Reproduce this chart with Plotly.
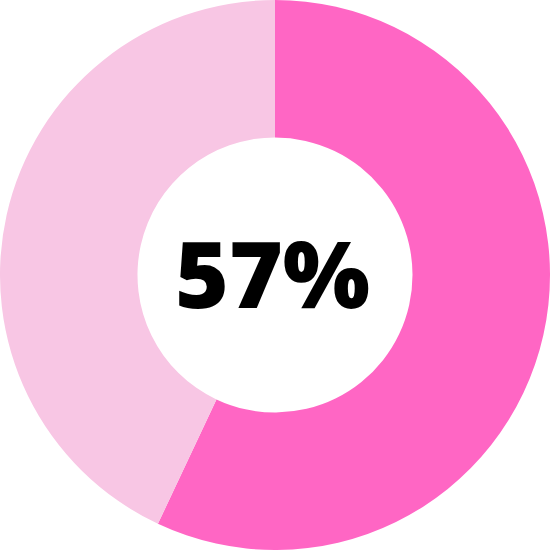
import plotly.graph_objects as go

labels = ["Value", "Remainder"]
values = [57, 43]
colors = ["#FF66C4", "#F8C6E4"]
center_text = "57%"

fig = go.Figure(go.Pie(
    labels=labels, values=values, hole=0.5, sort=False, direction="clockwise",
    rotation=0, marker=dict(colors=colors, line=dict(width=0)),
    textinfo="none", hoverinfo="none", showlegend=False,
    domain=dict(x=[0, 1], y=[0, 1]),
))
fig.add_annotation(text=center_text, x=0.5, y=0.5, xref="paper", yref="paper",
                   xshift=-3, yshift=3,
                   showarrow=False, font=dict(family="Open Sans", size=92, color="#000000", weight=800))
fig.update_layout(width=550, height=550, margin=dict(l=0, r=0, t=0, b=0),
                  paper_bgcolor="white", plot_bgcolor="white")
fig.write_html("out.html")
